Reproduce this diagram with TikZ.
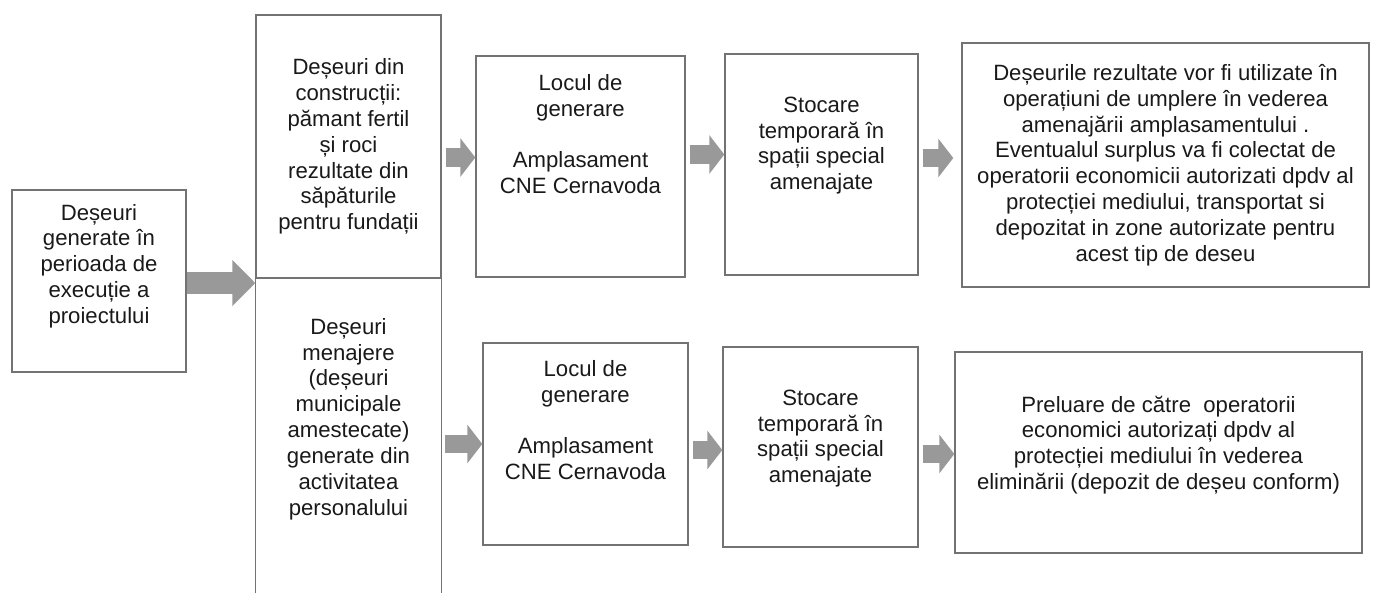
\documentclass[tikz,border=0pt]{standalone}
\usepackage{fontspec}
\setmainfont{Liberation Sans}
\usetikzlibrary{
    arrows.meta,
    positioning,
    fit
}
\tikzset{
    box/.style={draw=black!55, line width=0.8pt, inner sep=0pt},
    txt/.style={align=center, inner sep=0pt, text=black!90, font=\fontsize{12.6}{14.7}\selectfont},
    fat/.style={draw=black!40, line width=0.37cm, shorten <=0.08cm,
        -{Triangle[length=0.3cm, width=0.76cm]}},
    bigfat/.style={draw=black!40, line width=0.44cm,
        -{Triangle[length=0.46cm, width=0.9cm]}}
}

\begin{document}
\begin{tikzpicture}[x=0.02cm, y=-0.02cm]
    \useasboundingbox (0, 0) rectangle (1373, 593);

    \node[box, fit={(12, 190) (186, 372)}] (dgen) {};
    \node[box, fit={(256, 15) (441, 278)}] (dcon) {};
    \node[inner sep=0pt, fit={(256, 278) (441, 593)}] (dmen) {};
    \draw[black!55, line width=0.8pt] (dmen.south west) -- (dmen.north west) -- (dmen.north east) -- (dmen.south east);

    \node[box, fit={(476, 56) (685, 277)}] (loc1) {};
    \node[box, fit={(725, 54) (918, 275)}] (sto1) {};
    \node[box, fit={(962, 43) (1369, 287)}] (dest1) {};

    \node[box, fit={(483, 343) (688, 545)}] (loc2) {};
    \node[box, fit={(723, 347) (918, 547)}] (sto2) {};
    \node[box, fit={(955, 352) (1362, 553)}] (dest2) {};

    \node[txt] (dgen-t) at ([yshift=0.3cm]dgen.center) {Deșeuri\\generate în\\perioada de\\execuție a\\proiectului};
    \node[txt] (dcon-t) at (dcon.center) {Deșeuri din\\construcții:\\pămant fertil\\și roci\\rezultate din\\săpăturile\\pentru fundații};
    \node[txt] (dmen-t) at ([yshift=0.33cm]dmen.center) {Deșeuri\\menajere\\(deșeuri\\municipale\\amestecate)\\generate din\\activitatea\\personalului};

    \node[txt] (loc1-t) at ([yshift=0.65cm]loc1.center) {Locul de\\generare\\[14.7pt]Amplasament\\CNE Cernavoda};
    \node[txt] (sto1-t) at ([yshift=0.38cm]sto1.center) {Stocare\\temporară în\\spații special\\amenajate};
    \node[txt] (dest1-t) at (dest1.center) {Deșeurile rezultate vor fi utilizate în\\operațiuni de umplere în vederea\\amenajării amplasamentului .\\Eventualul surplus va fi colectat de\\operatorii economicii autorizati dpdv al\\protecției mediului, transportat si\\depozitat in zone autorizate pentru\\acest tip de deseu};

    \node[txt] (loc2-t) at ([yshift=0.48cm]loc2.center) {Locul de\\generare\\[14.7pt]Amplasament\\CNE Cernavoda};
    \node[txt] (sto2-t) at ([yshift=0.17cm]sto2.center) {Stocare\\temporară în\\spații special\\amenajate};
    \node[txt] (dest2-t) at ([yshift=0.15cm]dest2.center) {Preluare de către\ \ operatorii\\economici autorizați dpdv al\\protecției mediului în vederea\\eliminării (depozit de deșeu conform)};

    \draw[bigfat] ([yshift=-0.04cm]dgen.east) -- ([yshift=-0.04cm]dgen.east -| dcon.west);

    \draw[fat] ([yshift=0.18cm]loc1.west -| dcon.east) -- ([yshift=0.18cm]loc1.west);
    \draw[fat] ([yshift=0.2cm]sto1.west -| loc1.east) -- ([yshift=0.2cm]sto1.west);
    \draw[fat] ([yshift=0.14cm]dest1.west -| sto1.east) -- ([yshift=0.14cm, xshift=-0.16cm]dest1.west);

    \draw[fat] (loc2.west -| dmen.east) -- (loc2.west);
    \draw[fat] ([yshift=-0.06cm]sto2.west -| loc2.east) -- ([yshift=-0.06cm]sto2.west);
    \draw[fat] ([yshift=-0.03cm]dest2.west -| sto2.east) -- ([yshift=-0.03cm]dest2.west);
\end{tikzpicture}
\end{document}
